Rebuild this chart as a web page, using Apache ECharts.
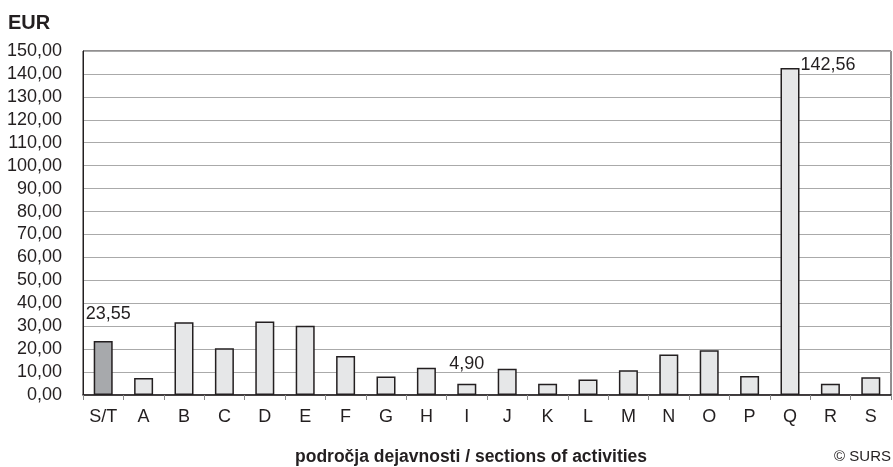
<!DOCTYPE html>
<html><head><meta charset="utf-8">
<script src="https://cdn.jsdelivr.net/npm/echarts@6/dist/echarts.min.js"></script>
<style>html,body{margin:0;padding:0;background:#fff}#c{width:893px;height:467px}</style>
</head><body><div id="c"></div>
<script>
const categories = ['S/T','A','B','C','D','E','F','G','H','I','J','K','L','M','N','O','P','Q','R','S'];
const values = [23.55,7.4,31.7,20.4,32.0,30.2,17.0,8.1,11.9,4.90,11.5,4.9,6.8,10.8,17.7,19.5,8.3,142.56,4.9,7.7];
const yMin = 0, yMax = 150, yStep = 10;

const FONT = '"Liberation Sans",Arial,sans-serif';
const TXT = '#231f20';
const fmt = v => v.toFixed(2).replace('.', ',');

const data = values.map((v, i) => {
  const d = { value: v, itemStyle: { color: i === 0 ? '#a7a9ac' : '#e6e7e8', borderColor: '#231f20', borderWidth: 1.5 } };
  if (i === 0) d.label = { show: true, position: 'top', distance: 18, offset: [5, 0] };
  else if (i === 9) d.label = { show: true, position: 'top', distance: 11 };
  else if (i === 17) d.label = { show: true, position: ['100%', 0], align: 'left', verticalAlign: 'middle', offset: [1, -3] };
  return d;
});

const chart = echarts.init(document.getElementById('c'), null, { renderer: 'canvas' });
chart.setOption({
  animation: false,
  backgroundColor: '#fff',
  grid: { left: 83, right: 2, top: 51, bottom: 72, show: true, borderColor: '#231f20', borderWidth: 1, backgroundColor: 'transparent' },
  xAxis: {
    type: 'category', data: categories, boundaryGap: true,
    axisLine: { lineStyle: { color: '#231f20', width: 1.5 } },
    axisTick: { show: true, length: 5, lineStyle: { color: '#888' } },
    axisLabel: { color: TXT, fontFamily: FONT, fontSize: 18, margin: 13 }
  },
  yAxis: {
    type: 'value', min: yMin, max: yMax, interval: yStep,
    axisLine: { show: true, lineStyle: { color: '#231f20' } },
    axisTick: { show: false },
    splitLine: { lineStyle: { color: '#aaaaaa', width: 1 } },
    axisLabel: { color: TXT, fontFamily: FONT, fontSize: 18, margin: 21, formatter: v => fmt(v) }
  },
  series: [{
    type: 'bar', data: data, barWidth: 19,
    label: { show: false, color: TXT, fontFamily: FONT, fontSize: 18, formatter: p => fmt(p.value) }
  }],
  graphic: [
    { type: 'text', left: 8, top: 13, style: { text: 'EUR', fill: TXT, font: 'bold 20px ' + FONT } },
    { type: 'text', left: 295, top: 448, style: { text: 'področja dejavnosti / sections of activities', fill: TXT, font: 'bold 17.5px ' + FONT } },
    { type: 'text', right: 2, top: 449, style: { text: '© SURS', fill: TXT, font: '15px ' + FONT } }
  ]
});
</script></body></html>
